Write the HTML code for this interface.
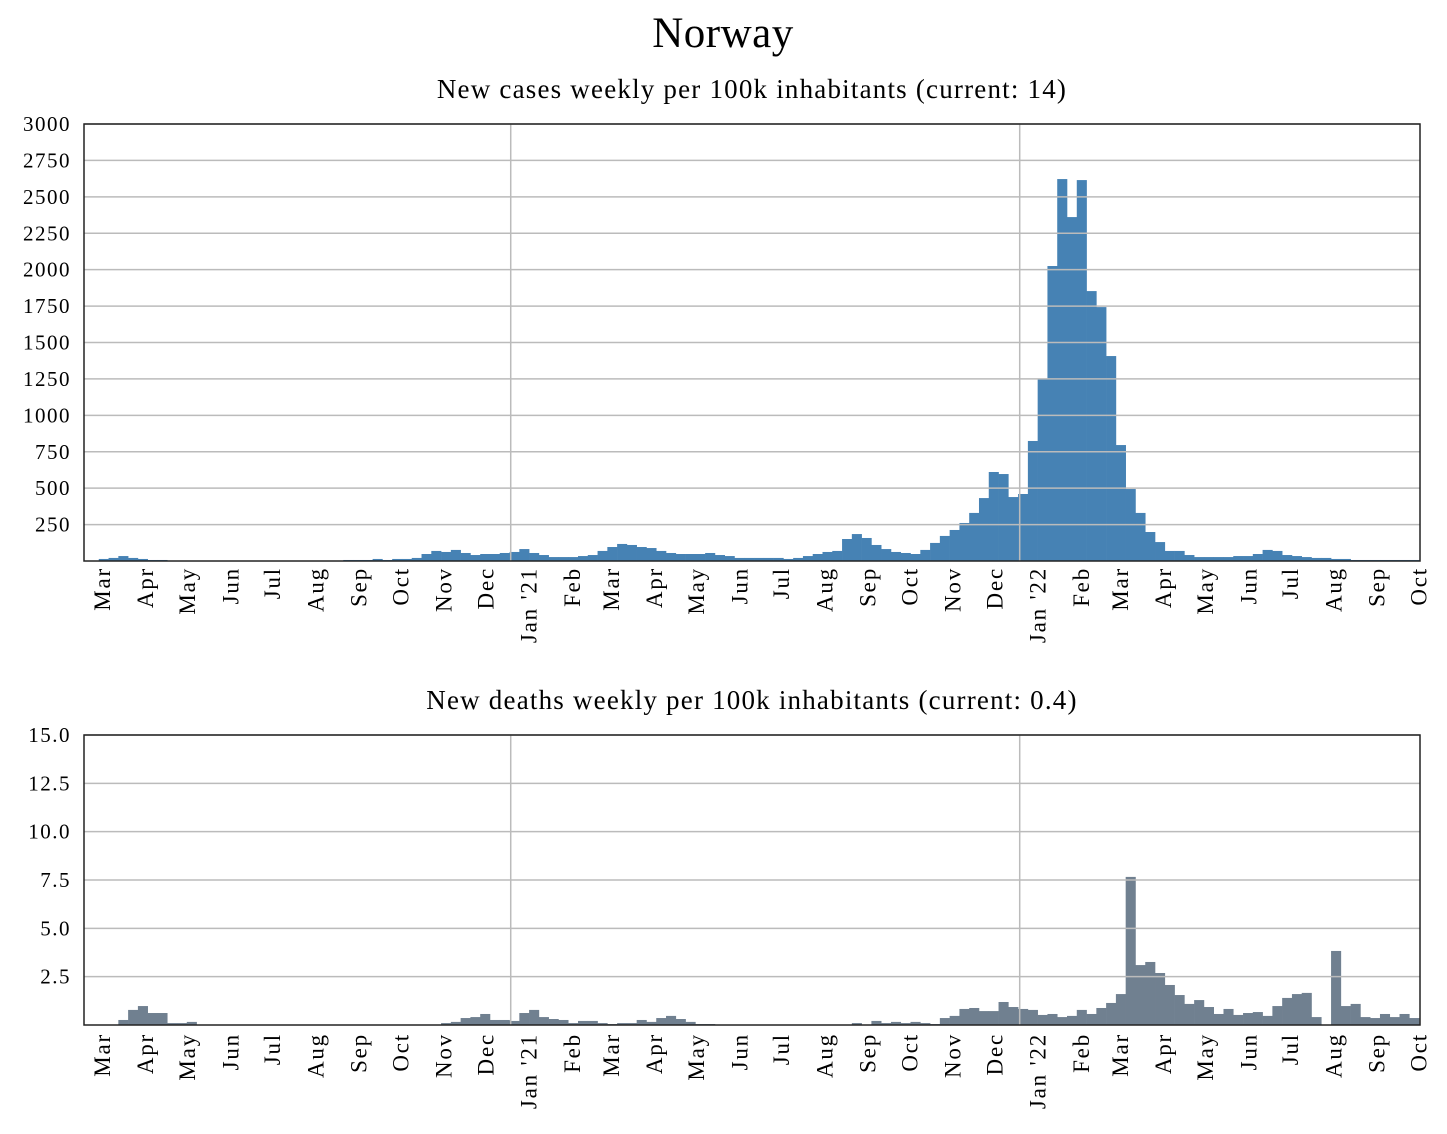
<!DOCTYPE html>
<html><head><meta charset="utf-8"><style>
body{margin:0;background:#fff;}
svg text{font-family:"Liberation Serif",serif;fill:#000;}
</style></head><body>
<svg id="chart" width="1447" height="1129" viewBox="0 0 1447 1129" xmlns="http://www.w3.org/2000/svg">
<text x="723" y="47" font-size="43" letter-spacing="0.5" text-anchor="middle">Norway</text>
<text x="752" y="98" font-size="27" letter-spacing="1.2" text-anchor="middle">New cases weekly per 100k inhabitants (current: 14)</text>
<text x="752" y="709" font-size="27" letter-spacing="1.2" text-anchor="middle">New deaths weekly per 100k inhabitants (current: 0.4)</text>
</svg>
<script>
const cases = [0,14,21,34,21,14,7,7,0,0,0,0,0,0,0,0,0,0,0,0,0,0,0,0,0,0,7,7,7,14,7,14,14,21,48,69,62,76,55,41,48,48,55,62,82,55,41,27,27,27,34,41,69,96,117,110,96,89,69,55,48,48,48,55,41,34,21,21,21,21,21,14,21,34,48,62,69,151,185,158,110,82,62,55,48,76,124,172,213,261,330,432,611,597,439,460,824,1249,2025,2622,2361,2615,1853,1743,1407,796,494,330,199,130,69,69,41,27,27,27,27,34,34,48,76,69,41,34,27,21,21,14,14,7,7,7,7,7,7,7];
const deaths = [0,0,0,0.26,0.78,0.98,0.62,0.62,0.10,0.10,0.16,0,0,0,0,0,0,0,0,0,0,0,0,0,0,0,0,0,0,0,0,0,0,0,0,0,0.10,0.16,0.36,0.41,0.57,0.26,0.26,0.21,0.62,0.78,0.41,0.31,0.26,0.10,0.21,0.21,0.10,0.05,0.10,0.10,0.26,0.16,0.36,0.47,0.31,0.16,0.05,0.05,0,0,0,0,0,0,0,0,0,0,0,0,0,0,0.10,0,0.21,0.10,0.16,0.10,0.16,0.10,0.05,0.36,0.47,0.83,0.88,0.72,0.72,1.19,0.93,0.83,0.78,0.52,0.57,0.41,0.47,0.78,0.57,0.88,1.14,1.60,7.66,3.10,3.26,2.69,2.07,1.55,1.09,1.29,0.93,0.57,0.83,0.52,0.62,0.67,0.47,0.98,1.40,1.60,1.66,0.41,0,3.83,0.98,1.09,0.41,0.36,0.57,0.41,0.57,0.36];
const caseTicks = [250,500,750,1000,1250,1500,1750,2000,2250,2500,2750,3000];
const deathTicks = [2.5,5.0,7.5,10.0,12.5,15.0];
const monthLabels = ["Mar","Apr","May","Jun","Jul","Aug","Sep","Oct","Nov","Dec","Jan '21","Feb","Mar","Apr","May","Jun","Jul","Aug","Sep","Oct","Nov","Dec","Jan '22","Feb","Mar","Apr","May","Jun","Jul","Aug","Sep","Oct"];
const monthDays = [0,31,61,92,122,153,184,214,245,275,306,337,365,396,426,457,487,518,549,579,610,640,671,702,730,761,791,822,852,883,914,944];
const yearLineDays = [306,671];

const NS="http://www.w3.org/2000/svg";
const svg=document.getElementById('chart');
const L=84,R=1420,x0=89,bw=9.78,PD=1.3945;
const xBar=i=>x0+i*bw;
const xDay=d=>L+d*PD;
function el(t,a){const e=document.createElementNS(NS,t);for(const k in a)e.setAttribute(k,a[k]);svg.appendChild(e);return e;}
function panel(name,data,ticks,max,top,bot,color,fmt,labelY){
  const y=v=>bot-v/max*(bot-top);
  data.forEach((v,i)=>{if(v<=0)return;
    const r=el('rect',{x:xBar(i),y:y(v),width:bw+0.3,height:bot-y(v),fill:color});
    
    
  });
  ticks.forEach(t=>{
    const g=el('line',{x1:L,x2:R,y1:y(t),y2:y(t),stroke:'#bbb','stroke-width':1.5});
    
    
    const tx=el('text',{x:71,y:y(t)+7,'font-size':21,'letter-spacing':1.5,'text-anchor':'end'});
    tx.textContent=fmt(t);
    
    
  });
  yearLineDays.forEach(d=>{
    const xv=xDay(d);
    const g=el('line',{x1:xv,x2:xv,y1:top,y2:bot,stroke:'#bbb','stroke-width':1.5});
    
    
  });
  const f=el('rect',{x:L,y:top,width:R-L,height:bot-top,fill:'none',stroke:'#222','stroke-width':1.5});
  
  
  monthLabels.forEach((m,i)=>{
    const cx=xDay(monthDays[i])+18;
    const t=el('text',{x:cx+8,y:labelY,'font-size':23,'letter-spacing':1.8,'text-anchor':'end',transform:`rotate(-90 ${cx+8} ${labelY})`});
    t.textContent=m;
    
    
  });
}
panel('cases',cases,caseTicks,3000,124,561,'#4682b4',t=>String(t),567);
panel('deaths',deaths,deathTicks,15,735,1025,'#708090',t=>t.toFixed(1),1033);
</script>
</body></html>
